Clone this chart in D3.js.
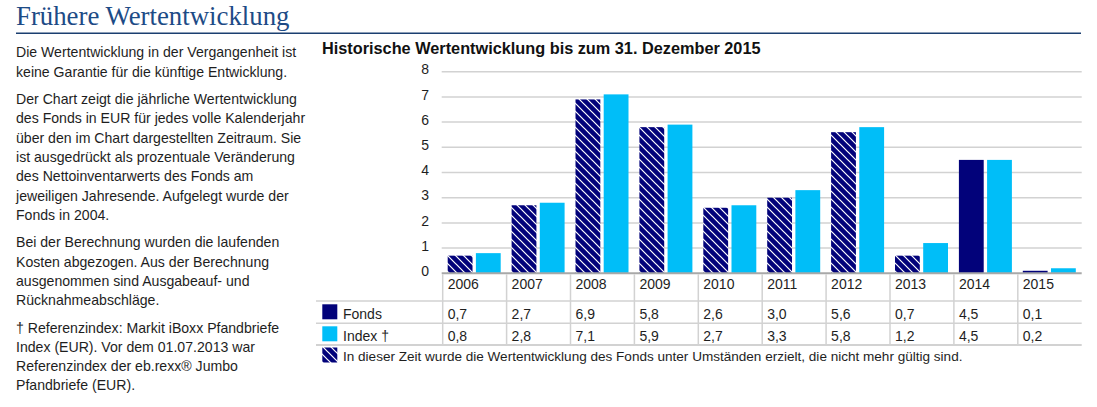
<!DOCTYPE html>
<html>
<head>
<meta charset="utf-8">
<script src="https://cdn.jsdelivr.net/npm/d3@7"></script>
<style>
  html, body { margin: 0; padding: 0; background: #fff; }
  svg { display: block; }
</style>
</head>
<body>
<svg id="chart" width="1097" height="407"></svg>
<script>
// ---- data ----
const years = ["2006","2007","2008","2009","2010","2011","2012","2013","2014","2015"];
const fondsValues = [0.7, 2.7, 6.9, 5.8, 2.6, 3.0, 5.6, 0.7, 4.5, 0.1];
const indexValues = [0.8, 2.8, 7.1, 5.9, 2.7, 3.3, 5.8, 1.2, 4.5, 0.2];
const fondsHatched = [true, true, true, true, true, true, true, true, false, false];
const yTicks = [0, 1, 2, 3, 4, 5, 6, 7, 8];
const seriesNames = ["Fonds", "Index †"];
const pageTitle = "Frühere Wertentwicklung";
const chartTitle = "Historische Wertentwicklung bis zum 31. Dezember 2015";
const hatchNote = "In dieser Zeit wurde die Wertentwicklung des Fonds unter Umständen erzielt, die nicht mehr gültig sind.";
const paragraphs = [
  ["Die Wertentwicklung in der Vergangenheit ist", "keine Garantie für die künftige Entwicklung."],
  ["Der Chart zeigt die jährliche Wertentwicklung", "des Fonds in EUR für jedes volle Kalenderjahr",
   "über den im Chart dargestellten Zeitraum. Sie", "ist ausgedrückt als prozentuale Veränderung",
   "des Nettoinventarwerts des Fonds am", "jeweiligen Jahresende. Aufgelegt wurde der", "Fonds in 2004."],
  ["Bei der Berechnung wurden die laufenden", "Kosten abgezogen. Aus der Berechnung",
   "ausgenommen sind Ausgabeauf- und", "Rücknahmeabschläge."],
  ["† Referenzindex: Markit iBoxx Pfandbriefe", "Index (EUR). Vor dem 01.07.2013 war",
   "Referenzindex der eb.rexx® Jumbo", "Pfandbriefe (EUR)."]
];

// ---- styles ----
const NAVY = "#02027a";
const CYAN = "#00bef8";
const TEXT = "#1e1e1e";
const GRID = "#d2d2d2";
const FONT = "'Liberation Sans', Arial, sans-serif";

const svg = d3.select("#chart");

// pattern
const defs = svg.append("defs");
const pat = defs.append("pattern")
  .attr("id", "hatch").attr("patternUnits", "userSpaceOnUse")
  .attr("width", 8).attr("height", 8);
pat.append("rect").attr("width", 8).attr("height", 8).attr("fill", NAVY);
pat.append("path").attr("d", "M0,0 L8,8 M-4,4 L4,12 M4,-4 L12,4")
  .attr("stroke", "#fff").attr("stroke-width", 1.2);

// page title
svg.append("text").attr("x", 16).attr("y", 25)
  .attr("font-family", "'Liberation Serif', 'DejaVu Serif', serif")
  .attr("font-size", 26.8).attr("fill", "#1d4b86").text(pageTitle);
svg.append("line").attr("x1", 16).attr("x2", 1081).attr("y1", 33.3).attr("y2", 33.3)
  .attr("stroke", "#1b3f70").attr("stroke-width", 1.5);

// left text
const lineH = 19.33, paraGap = 27.3;
let yy = 57.3;
const leftG = svg.append("g").attr("font-family", FONT).attr("font-size", 14.1).attr("fill", TEXT);
paragraphs.forEach((p, pi) => {
  p.forEach((ln, li) => {
    leftG.append("text").attr("x", 16).attr("y", yy).text(ln);
    if (li < p.length - 1) yy += lineH;
  });
  yy += paraGap;
});

// chart title
svg.append("text").attr("x", 322).attr("y", 54).attr("font-family", FONT)
  .attr("font-weight", "bold").attr("font-size", 16.3).attr("fill", "#111").text(chartTitle);

// scales
const x = d3.scaleBand().domain(years).range([442.7, 1081.7]).padding(0);
const xi = d3.scaleBand().domain(seriesNames).range([5, 58]).paddingInner(0.12);
const y = d3.scaleLinear().domain([0, 8]).range([273.3, 71.7]);

// grid + y labels
const gridG = svg.append("g");
gridG.selectAll("line").data(yTicks.filter(d => d > 0)).join("line")
  .attr("x1", 441.7).attr("x2", 1081.7)
  .attr("y1", d => y(d)).attr("y2", d => y(d))
  .attr("stroke", GRID).attr("stroke-width", 1.5);
svg.append("g").selectAll("text").data(yTicks).join("text")
  .attr("x", 429).attr("y", d => y(d) + 2.6).attr("text-anchor", "end")
  .attr("font-family", FONT).attr("font-size", 14).attr("fill", TEXT)
  .text(d => d);

// bars
const barG = svg.append("g");
years.forEach((yr, i) => {
  const vals = [fondsValues[i], indexValues[i]];
  vals.forEach((v, si) => {
    const fill = si === 0 ? (fondsHatched[i] ? "url(#hatch)" : NAVY) : CYAN;
    barG.append("rect")
      .attr("x", x(yr) + xi(seriesNames[si]))
      .attr("width", xi.bandwidth())
      .attr("y", y(v)).attr("height", y(0) - y(v))
      .attr("fill", fill);
  });
});

// zero axis
svg.append("line").attr("x1", 441.7).attr("x2", 1081.7).attr("y1", y(0)).attr("y2", y(0))
  .attr("stroke", "#a8a8a8").attr("stroke-width", 2);

// table
const tG = svg.append("g");
years.forEach(yr => {
  tG.append("line").attr("x1", x(yr)).attr("x2", x(yr)).attr("y1", y(0) + 1).attr("y2", 345)
    .attr("stroke", GRID).attr("stroke-width", 1.5);
});
[301, 323.3, 345].forEach((ly, i) => {
  tG.append("line").attr("x1", 316).attr("x2", 1081.7).attr("y1", ly).attr("y2", ly)
    .attr("stroke", GRID).attr("stroke-width", i === 2 ? 2 : 1.5);
});
const tText = svg.append("g").attr("font-family", FONT).attr("font-size", 14).attr("fill", TEXT);
tText.selectAll(".yr").data(years).join("text").attr("class", "yr")
  .attr("x", d => x(d) + 5).attr("y", 288.5).text(d => d);
const fmt = v => d3.format(".1f")(v).replace(".", ",");
tText.selectAll(".fv").data(fondsValues).join("text").attr("class", "fv")
  .attr("x", (d, i) => x(years[i]) + 5).attr("y", 318.5).text(fmt);
tText.selectAll(".iv").data(indexValues).join("text").attr("class", "iv")
  .attr("x", (d, i) => x(years[i]) + 5).attr("y", 340.5).text(fmt);

// legend
svg.append("rect").attr("x", 322.3).attr("y", 304.3).attr("width", 15).attr("height", 15).attr("fill", NAVY);
svg.append("rect").attr("x", 322.3).attr("y", 326.3).attr("width", 15).attr("height", 15).attr("fill", CYAN);
svg.append("rect").attr("x", 322.3).attr("y", 347.5).attr("width", 15).attr("height", 15).attr("fill", "url(#hatch)");
tText.append("text").attr("x", 343).attr("y", 318.5).text(seriesNames[0]);
tText.append("text").attr("x", 343).attr("y", 340.5).text(seriesNames[1]);
tText.append("text").attr("x", 343).attr("y", 361).attr("font-size", 13.55).text(hatchNote);
</script>
</body>
</html>
